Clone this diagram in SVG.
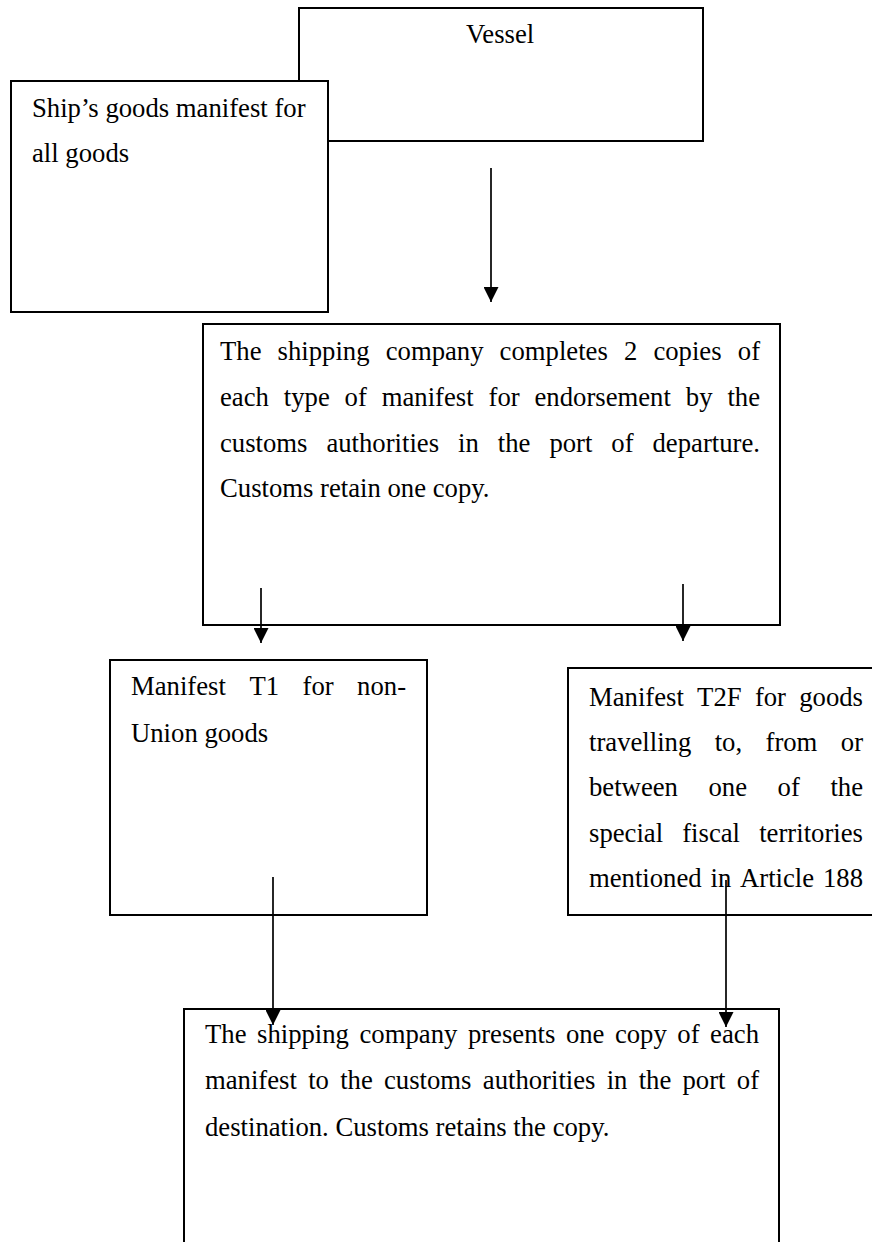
<svg xmlns="http://www.w3.org/2000/svg" width="872" height="1242" viewBox="0 0 872 1242">
<style>
.box{fill:#fff;stroke:#000;stroke-width:2}
.t{font-family:"Liberation Serif","Times New Roman",serif;font-size:26.7px;fill:#000}
.c{stroke:#000;stroke-width:1.7;fill:none;marker-end:url(#ah)}
</style>
<defs>
<marker id="ah" markerUnits="userSpaceOnUse" markerWidth="15" markerHeight="15" viewBox="0 0 15 15" refX="15" refY="7.5" orient="auto">
<path d="M0,0 L15,7.5 L0,15 z" fill="#000"/>
</marker>
</defs>
<rect width="872" height="1242" fill="#fff"/>
<g id="vessel">
<rect class="box" x="299" y="8" width="404" height="133"/>
<text class="t" x="466" y="43">Vessel</text>
</g>
<g id="ship-manifest">
<rect class="box" x="11" y="81" width="317" height="231"/>
<text class="t" y="117"><tspan x="32">Ship’s goods manifest for</tspan></text>
<text class="t" y="162"><tspan x="32">all goods</tspan></text>
</g>
<g id="departure">
<rect class="box" x="203" y="324" width="577" height="301"/>
<text class="t" y="360"><tspan x="220">The</tspan><tspan x="277.6">shipping</tspan><tspan x="385.7">company</tspan><tspan x="499.6">completes</tspan><tspan x="624">2</tspan><tspan x="653.4">copies</tspan><tspan x="737.8">of</tspan></text>
<text class="t" y="406"><tspan x="220">each</tspan><tspan x="283.8">type</tspan><tspan x="344.6">of</tspan><tspan x="381.7">manifest</tspan><tspan x="488.5">for</tspan><tspan x="534.5">endorsement</tspan><tspan x="685.8">by</tspan><tspan x="727.4">the</tspan></text>
<text class="t" y="452"><tspan x="220">customs</tspan><tspan x="326.4">authorities</tspan><tspan x="458.1">in</tspan><tspan x="497.8">the</tspan><tspan x="549.4">port</tspan><tspan x="611.3">of</tspan><tspan x="652.5">departure.</tspan></text>
<text class="t" y="497"><tspan x="220">Customs retain one copy.</tspan></text>
</g>
<g id="t1">
<rect class="box" x="110" y="660" width="317" height="255"/>
<text class="t" y="695"><tspan x="131">Manifest</tspan><tspan x="249.4">T1</tspan><tspan x="302.5">for</tspan><tspan x="357.1">non-</tspan></text>
<text class="t" y="742"><tspan x="131">Union goods</tspan></text>
</g>
<g id="t2f">
<rect class="box" x="568" y="668" width="312" height="247"/>
<text class="t" y="706"><tspan x="589">Manifest</tspan><tspan x="697.1">T2F</tspan><tspan x="754.9">for</tspan><tspan x="799.2">goods</tspan></text>
<text class="t" y="751"><tspan x="589">travelling</tspan><tspan x="714.7">to,</tspan><tspan x="765.5">from</tspan><tspan x="840.8">or</tspan></text>
<text class="t" y="796"><tspan x="589">between</tspan><tspan x="708.5">one</tspan><tspan x="777.6">of</tspan><tspan x="830.4">the</tspan></text>
<text class="t" y="842"><tspan x="589">special</tspan><tspan x="682.2">fiscal</tspan><tspan x="759.2">territories</tspan></text>
<text class="t" y="887"><tspan x="589">mentioned</tspan><tspan x="710.5">in</tspan><tspan x="740">Article</tspan><tspan x="823">188</tspan></text>
</g>
<g id="destination">
<rect class="box" x="184" y="1009" width="595" height="300"/>
<text class="t" y="1043"><tspan x="205">The</tspan><tspan x="257">shipping</tspan><tspan x="359.5">company</tspan><tspan x="467.9">presents</tspan><tspan x="565.9">one</tspan><tspan x="614.9">copy</tspan><tspan x="677.3">of</tspan><tspan x="710.1">each</tspan></text>
<text class="t" y="1089"><tspan x="205">manifest</tspan><tspan x="308.2">to</tspan><tspan x="340.2">the</tspan><tspan x="384">customs</tspan><tspan x="482.8">authorities</tspan><tspan x="606.7">in</tspan><tspan x="638.7">the</tspan><tspan x="682.5">port</tspan><tspan x="736.8">of</tspan></text>
<text class="t" y="1136"><tspan x="205">destination. Customs retains the copy.</tspan></text>
</g>
<g id="connectors">
<line class="c" x1="491" y1="168" x2="491" y2="302"/>
<line class="c" x1="261" y1="588" x2="261" y2="643"/>
<line class="c" x1="683" y1="584" x2="683" y2="641"/>
<line class="c" x1="273" y1="877" x2="273" y2="1025"/>
<line class="c" x1="726" y1="880" x2="726" y2="1027"/>
</g>
</svg>
